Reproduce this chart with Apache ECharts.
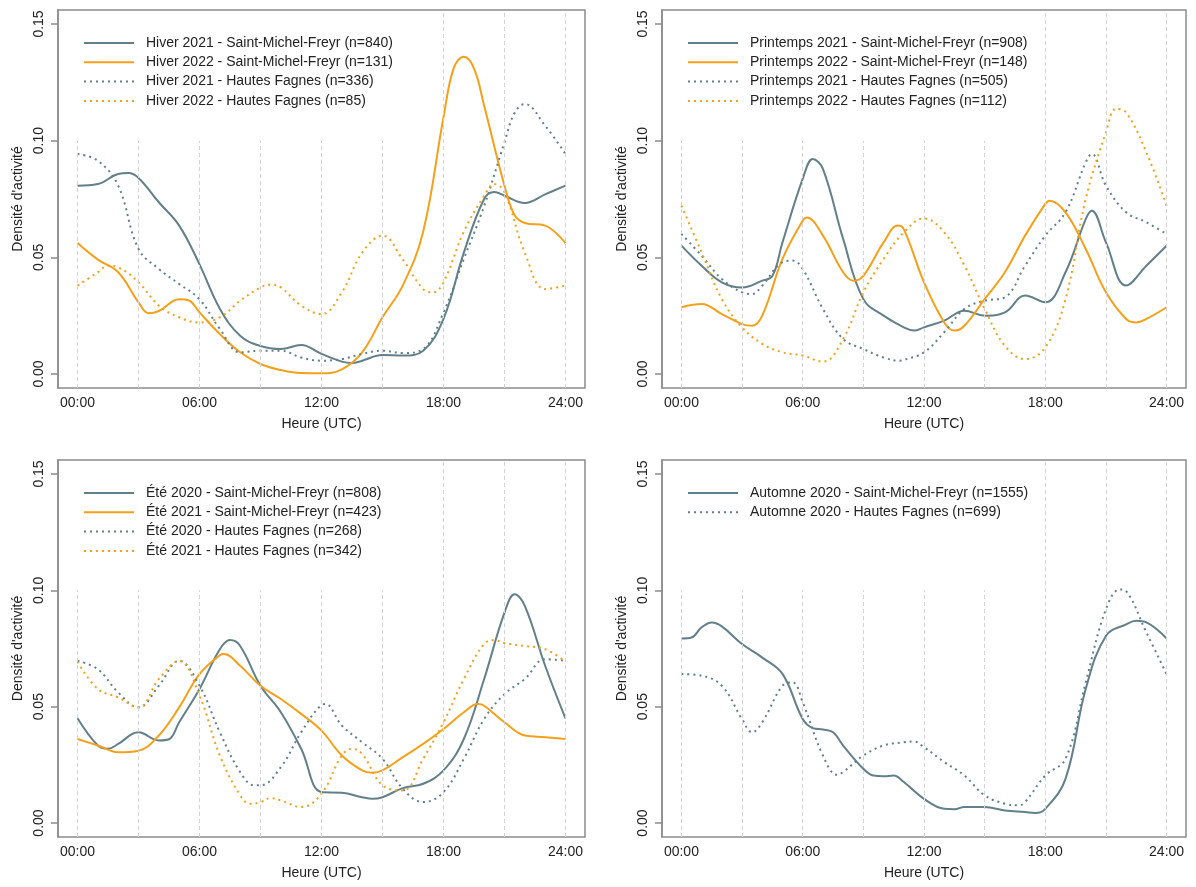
<!DOCTYPE html>
<html><head><meta charset="utf-8">
<script src="https://cdn.jsdelivr.net/npm/echarts@6/dist/echarts.min.js"></script>
<style>html,body{margin:0;padding:0;background:#fff}#c{width:1196px;height:887px}</style>
</head><body><div id="c"></div>
<script>
// ---- tick labels ----
const xTickHours = [0, 6, 12, 18, 24];
const xTickLabels = ['00:00', '06:00', '12:00', '18:00', '24:00'];
const yTicks = [0, 0.05, 0.10, 0.15];
const yTickLabels = ['0.00', '0.05', '0.10', '0.15'];
const gridHours = [0, 3, 6, 9, 12, 15, 18, 21, 24];

// ---- Hiver ----
const hiver2021SMF = [[0,0.0807],[1,0.0814],[2,0.0857],[2.5,0.0861],[3,0.084],[4,0.0736],[5,0.0636],[6,0.047],[7,0.028],[8,0.0164],[9,0.012],[10,0.0107],[11,0.0124],[12,0.0086],[13,0.0053],[13.5,0.0047],[14,0.0057],[15,0.0081],[16,0.0079],[17,0.010],[18,0.0236],[19,0.052],[20,0.075],[20.5,0.078],[21,0.0764],[22,0.0733],[23,0.077],[24,0.0807]];
const hiver2022SMF = [[0,0.0561],[1,0.049],[2,0.0436],[3,0.0307],[3.5,0.026],[4,0.027],[5,0.032],[5.5,0.0314],[6,0.0264],[7,0.0171],[8,0.0093],[9,0.0043],[10,0.0017],[11,0.0004],[12,0.0003],[13,0.002],[14,0.0093],[15,0.0243],[16,0.038],[17,0.061],[18,0.11],[18.5,0.131],[19,0.136],[19.5,0.131],[20,0.115],[21,0.0807],[21.5,0.068],[22,0.0647],[23,0.0636],[24,0.0561]];
const hiver2021HF = [[0,0.0943],[1,0.0914],[2,0.0807],[3,0.0536],[4,0.045],[5,0.0386],[6,0.032],[7,0.0193],[8,0.0093],[9,0.010],[10,0.010],[11,0.0071],[12,0.0057],[13,0.0064],[14,0.0086],[15,0.010],[16,0.009],[17,0.0107],[18,0.0264],[19,0.0493],[20,0.072],[21,0.0993],[21.5,0.112],[22,0.1157],[23,0.1064],[24,0.0943]];
const hiver2022HF = [[0,0.0379],[1,0.0436],[1.5,0.0464],[2,0.0457],[3,0.0393],[4,0.0293],[5,0.0243],[6,0.0221],[7,0.0243],[8,0.0314],[9,0.0371],[9.5,0.0383],[10,0.0371],[11,0.0293],[12,0.0257],[13,0.035],[14,0.052],[15,0.0593],[16,0.049],[17,0.0364],[17.5,0.035],[18,0.0393],[19,0.061],[20,0.0764],[20.5,0.0814],[21,0.0779],[22,0.052],[23,0.0364],[24,0.0379]];

// ---- Printemps ----
const printemps2021SMF = [[0,0.055],[1,0.0464],[2,0.0393],[3,0.0371],[4,0.04],[4.5,0.042],[5,0.0564],[6,0.0836],[6.5,0.0921],[7,0.0879],[8,0.0579],[9,0.0321],[10,0.025],[11,0.02],[11.5,0.0186],[12,0.02],[13,0.0229],[14,0.0271],[15,0.025],[16,0.0264],[17,0.0336],[18,0.0307],[19,0.0436],[20,0.0664],[20.3,0.07],[21,0.0564],[22,0.0379],[23,0.0464],[24,0.055]];
const printemps2022SMF = [[0,0.0286],[1,0.03],[2,0.0257],[3,0.0214],[3.5,0.0207],[4,0.025],[5,0.0493],[6,0.0657],[6.2,0.0671],[7,0.0593],[8,0.0436],[8.5,0.04],[9,0.0421],[10,0.0564],[10.7,0.0636],[11,0.0621],[12,0.0393],[13,0.0221],[13.5,0.0186],[14,0.0207],[15,0.0321],[16,0.0436],[17,0.0593],[18,0.0729],[18.2,0.0743],[19,0.0693],[20,0.0536],[21,0.035],[22,0.0236],[22.5,0.0221],[23,0.0236],[24,0.0286]];
const printemps2021HF = [[0,0.06],[1,0.0507],[2,0.0407],[3,0.035],[3.5,0.0343],[4,0.0379],[5,0.0479],[5.5,0.0486],[6,0.045],[7,0.0279],[8,0.015],[9,0.0107],[10,0.0071],[10.8,0.0057],[11,0.006],[12,0.0093],[13,0.0179],[14,0.0279],[15,0.0314],[16,0.0329],[17,0.0464],[18,0.0593],[19,0.0693],[20,0.0907],[20.3,0.0943],[21,0.0807],[22,0.0693],[23,0.065],[24,0.06]];
const printemps2022HF = [[0,0.0721],[1,0.0521],[2,0.0321],[3,0.02],[4,0.0129],[5,0.0093],[6,0.0079],[7,0.0053],[8,0.015],[9,0.035],[10,0.0493],[11,0.0607],[12,0.0667],[13,0.0607],[14,0.0464],[15,0.0279],[16,0.0121],[17,0.0064],[18,0.0114],[19,0.0321],[20,0.075],[21,0.1036],[21.5,0.1136],[22,0.1121],[23,0.095],[24,0.0721]];

// ---- Été ----
const ete2020SMF = [[0,0.045],[1,0.0333],[1.5,0.0319],[2,0.034],[3,0.039],[4,0.0355],[4.5,0.036],[5,0.0433],[6,0.0576],[7,0.0747],[7.5,0.0786],[8,0.0761],[9,0.059],[10,0.0476],[11,0.0319],[12,0.0133],[13,0.013],[14,0.0111],[14.5,0.0104],[15,0.0111],[16,0.015],[17,0.0169],[18,0.0226],[19,0.0361],[20,0.0619],[21,0.0904],[21.5,0.0983],[22,0.0933],[23,0.0676],[24,0.045]];
const ete2021SMF = [[0,0.0361],[1,0.0333],[2,0.0304],[3,0.0311],[4,0.0376],[5,0.0497],[6,0.064],[7,0.0721],[7.2,0.0726],[8,0.0676],[9,0.059],[10,0.0533],[11,0.0469],[12,0.0397],[13,0.029],[14,0.0226],[14.5,0.0216],[15,0.0226],[16,0.0283],[17,0.034],[18,0.0404],[19,0.0476],[19.7,0.0511],[20,0.0504],[21,0.0433],[22,0.0376],[23,0.0369],[24,0.0361]];
const ete2020HF = [[0,0.0697],[1,0.0661],[2,0.0561],[3,0.0497],[4,0.059],[5,0.0697],[6,0.059],[7,0.039],[8,0.0219],[8.7,0.0162],[9,0.0162],[10,0.024],[11,0.039],[12,0.0507],[12.2,0.0511],[13,0.0419],[14,0.0347],[15,0.0276],[16,0.0147],[17,0.009],[18,0.0133],[19,0.0276],[20,0.0447],[21,0.0554],[22,0.0619],[23,0.0704],[24,0.0697]];
const ete2021HF = [[0,0.0693],[1,0.0576],[2,0.054],[3,0.0497],[4,0.0619],[5,0.0697],[6,0.0547],[7,0.029],[8,0.0119],[8.5,0.0083],[9,0.009],[9.5,0.0107],[10,0.0097],[11,0.0069],[12,0.0126],[13,0.029],[13.5,0.0319],[14,0.0297],[15,0.0162],[16,0.014],[17,0.0276],[18,0.0433],[19,0.0619],[20,0.077],[20.5,0.0786],[21,0.0773],[22,0.0761],[23,0.0747],[24,0.0693]];

// ---- Automne ----
const automne2020SMF = [[0,0.0793],[0.5,0.0797],[1,0.0841],[1.5,0.0862],[2,0.0845],[3,0.0769],[4,0.0711],[5,0.0641],[6,0.0447],[6.5,0.0408],[7,0.0402],[7.5,0.039],[8,0.0333],[9,0.0233],[9.5,0.0204],[10,0.0201],[10.5,0.0204],[11,0.0176],[12,0.0104],[13,0.0061],[13.5,0.0059],[14,0.0069],[15,0.0069],[16,0.0054],[17,0.0047],[17.5,0.0043],[18,0.0061],[19,0.019],[20,0.0576],[21,0.0804],[22,0.0854],[22.5,0.0869],[23,0.0862],[24,0.0793]];
const automne2020HF = [[0,0.064],[1,0.0633],[2,0.059],[3,0.0447],[3.5,0.039],[4,0.0433],[5,0.059],[5.5,0.0604],[6,0.0519],[7,0.029],[7.7,0.0207],[8,0.0219],[9,0.029],[10,0.0333],[11,0.0347],[11.5,0.035],[12,0.0326],[13,0.0262],[14,0.0204],[15,0.0119],[16,0.0083],[16.7,0.0076],[17,0.009],[18,0.0204],[19,0.0276],[20,0.0604],[21,0.0919],[21.7,0.1004],[22,0.0997],[23,0.0819],[24,0.064]];

// ---- styling ----
const FONT = '"Liberation Sans", Arial, sans-serif';
const GREY = '#627f8a';
const ORANGE = '#f5a01a';
const BOX = '#8c8c8c';
const TXT = '#222222';
const X_MIN = -0.96, X_MAX = 24.96, Y_MIN = -0.006, Y_MAX = 0.156;

const panels = [
  { grid: {left: 58, top: 10, width: 527, height: 378},
    series: [
      ['Hiver 2021 - Saint-Michel-Freyr (n=840)', hiver2021SMF, GREY, false],
      ['Hiver 2022 - Saint-Michel-Freyr (n=131)', hiver2022SMF, ORANGE, false],
      ['Hiver 2021 - Hautes Fagnes (n=336)', hiver2021HF, GREY, true],
      ['Hiver 2022 - Hautes Fagnes (n=85)', hiver2022HF, ORANGE, true]]},
  { grid: {left: 662, top: 10, width: 524, height: 378},
    series: [
      ['Printemps 2021 - Saint-Michel-Freyr (n=908)', printemps2021SMF, GREY, false],
      ['Printemps 2022 - Saint-Michel-Freyr (n=148)', printemps2022SMF, ORANGE, false],
      ['Printemps 2021 - Hautes Fagnes (n=505)', printemps2021HF, GREY, true],
      ['Printemps 2022 - Hautes Fagnes (n=112)', printemps2022HF, ORANGE, true]]},
  { grid: {left: 58, top: 460, width: 527, height: 377},
    series: [
      ['Été 2020 - Saint-Michel-Freyr (n=808)', ete2020SMF, GREY, false],
      ['Été 2021 - Saint-Michel-Freyr (n=423)', ete2021SMF, ORANGE, false],
      ['Été 2020 - Hautes Fagnes (n=268)', ete2020HF, GREY, true],
      ['Été 2021 - Hautes Fagnes (n=342)', ete2021HF, ORANGE, true]]},
  { grid: {left: 662, top: 460, width: 524, height: 377},
    series: [
      ['Automne 2020 - Saint-Michel-Freyr (n=1555)', automne2020SMF, GREY, false],
      ['Automne 2020 - Hautes Fagnes (n=699)', automne2020HF, GREY, true]]}
];

const grids = [], xAxes = [], yAxes = [], legends = [], series = [];
panels.forEach((p, i) => {
  grids.push(Object.assign({show: true, borderColor: BOX, borderWidth: 1.5, backgroundColor: 'transparent'}, p.grid));
  xAxes.push({
    gridIndex: i, type: 'value', min: X_MIN, max: X_MAX,
    axisLine: {show: false}, axisTick: {show: false}, splitLine: {show: false},
    axisLabel: {customValues: xTickHours, formatter: v => xTickLabels[xTickHours.indexOf(v)] || '',
      fontSize: 14, color: TXT, fontFamily: FONT, margin: 8},
    name: 'Heure (UTC)', nameLocation: 'middle', nameGap: 29,
    nameTextStyle: {fontSize: 14, color: TXT, fontFamily: FONT}
  });
  yAxes.push({
    gridIndex: i, type: 'value', min: Y_MIN, max: Y_MAX,
    axisLine: {show: true, onZero: false, lineStyle: {color: BOX, width: 1.5}},
    axisTick: {show: true, customValues: yTicks, length: 7, lineStyle: {color: BOX, width: 1.5}},
    axisLabel: {customValues: yTicks, formatter: v => yTickLabels[yTicks.indexOf(v)] || '',
      rotate: 90, fontSize: 14, color: TXT, fontFamily: FONT, margin: 12},
    splitLine: {show: false},
    name: "Densité d'activité", nameLocation: 'middle', nameGap: 33,
    nameTextStyle: {fontSize: 14, color: TXT, fontFamily: FONT}
  });
  legends.push({
    orient: 'vertical', left: p.grid.left + 25, top: p.grid.top + 26,
    itemWidth: 50, itemHeight: 14, itemGap: 5.3, padding: 0,
    data: p.series.map(s => s[0]), selectedMode: false,
    itemStyle: {opacity: 0, borderWidth: 0},
    textStyle: {fontSize: 14, color: TXT, fontFamily: FONT, padding: [0, 0, 0, 7]}
  });
  series.push({
    type: 'line', xAxisIndex: i, yAxisIndex: i, data: [], silent: true, z: 1,
    markLine: {
      silent: true, symbol: ['none', 'none'], label: {show: false}, animation: false,
      lineStyle: {type: [4, 3], color: '#d4d4d4', width: 1},
      emphasis: {disabled: true},
      data: gridHours.map(h => [{coord: [h, Y_MIN]}, {coord: [h, h <= 15 ? 0.10 : Y_MAX]}])
    }
  });
  p.series.forEach(s => {
    series.push({
      name: s[0], type: 'line', xAxisIndex: i, yAxisIndex: i, data: s[1],
      smooth: 0.4, symbol: 'none', z: 3, color: s[2],
      lineStyle: {color: s[2], width: 2, type: s[3] ? [2, 4] : 'solid'}
    });
  });
});

const chart = echarts.init(document.getElementById('c'), null, {renderer: 'canvas'});
chart.setOption({
  animation: false, backgroundColor: '#ffffff',
  grid: grids, xAxis: xAxes, yAxis: yAxes, legend: legends, series: series
});
</script></body></html>
